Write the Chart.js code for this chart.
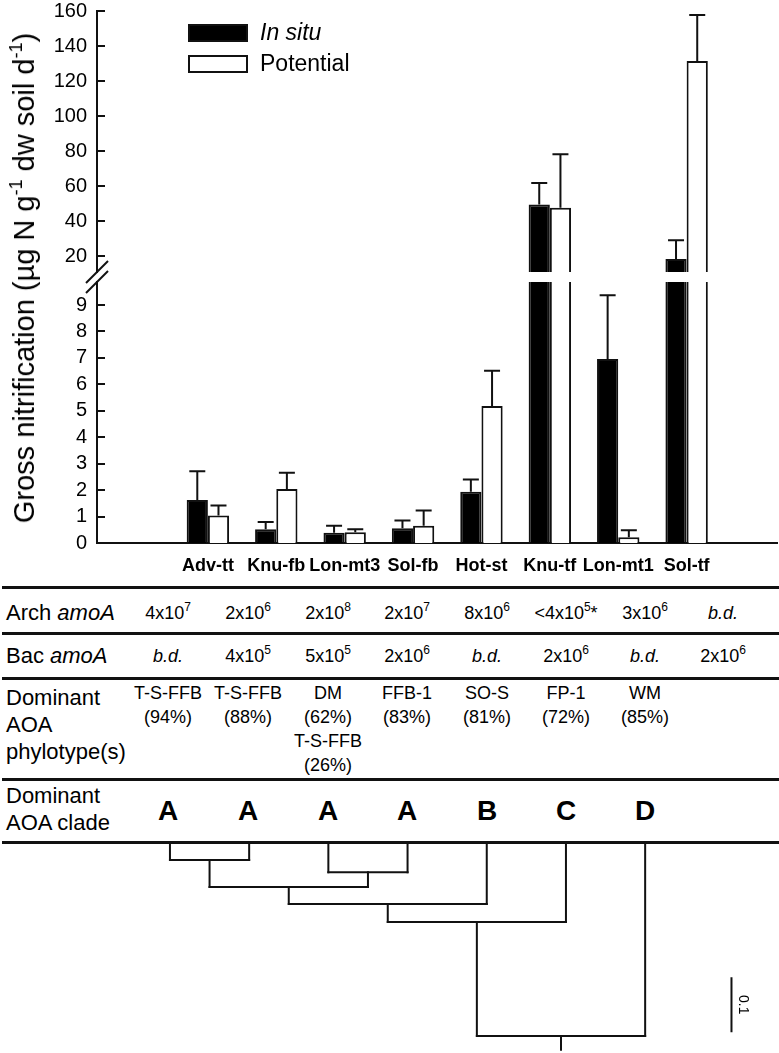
<!DOCTYPE html>
<html>
<head>
<meta charset="utf-8">
<script src="https://cdn.jsdelivr.net/npm/chart.js@4.4.0/dist/chart.umd.min.js"></script>
<style>
  body { margin: 0; background: #fff; font-family: "Liberation Sans", Arial, sans-serif; color: #000; }
  #wrap { position: relative; width: 779px; height: 1053px; overflow: hidden; }
  canvas { position: absolute; left: 0; }
  .ytitle { position: absolute; left: 24px; top: 278px; transform: translate(-50%, -50%) rotate(-90deg);
            white-space: nowrap; font-size: 29px; line-height: 32px; }
  .rule { position: absolute; left: 2px; width: 777px; height: 3px; background: #111; }
  .lab { position: absolute; left: 6px; font-size: 22px; line-height: 27px; white-space: nowrap; }
  .cell { position: absolute; transform: translateX(-50%); text-align: center; font-size: 18px;
          line-height: 24px; white-space: nowrap; }
  .clade { font-size: 28px; font-weight: bold; line-height: 32px; }
  sup { font-size: 12px; line-height: 0; vertical-align: 8px; }
  .ytitle sup { font-size: 18px; vertical-align: 12px; }
</style>
</head>
<body>
<div id="wrap">
  <canvas id="upper" width="779" height="590"></canvas>
  <canvas id="lower" width="779" height="590"></canvas>
  <div class="ytitle">Gross nitrification (µg N g<sup>-1</sup> dw soil d<sup>-1</sup>)</div>
  <div id="table"></div>
  <canvas id="tree" width="779" height="211" style="top:842px"></canvas>
</div>
<script>
// ---- Data ----
const sites = ['Adv-tt', 'Knu-fb', 'Lon-mt3', 'Sol-fb', 'Hot-st', 'Knu-tf', 'Lon-mt1', 'Sol-tf'];
const inSitu = [1.63, 0.52, 0.39, 0.56, 1.94, 49.5, 6.96, 18.3];
const inSituSd = [1.08, 0.27, 0.26, 0.29, 0.46, 12.2, 2.41, 10.7];
const potential = [1.04, 2.04, 0.41, 0.65, 5.18, 47.6, 0.22, 131.4];
const potentialSd = [0.38, 0.62, 0.11, 0.58, 1.33, 30.5, 0.26, 26.3];
const upperTicks = [20, 40, 60, 80, 100, 120, 140, 160];
const lowerTicks = [0, 1, 2, 3, 4, 5, 6, 7, 8, 9];

const archAmoA = ['4x10^7', '2x10^6', '2x10^8', '2x10^7', '8x10^6', '<4x10^5*', '3x10^6', 'b.d.'];
const bacAmoA = ['b.d.', '4x10^5', '5x10^5', '2x10^6', 'b.d.', '2x10^6', 'b.d.', '2x10^6'];
const phylotypes = [['T-S-FFB', '(94%)'], ['T-S-FFB', '(88%)'], ['DM', '(62%)', 'T-S-FFB', '(26%)'],
  ['FFB-1', '(83%)'], ['SO-S', '(81%)'], ['FP-1', '(72%)'], ['WM', '(85%)'], []];
const clades = ['A', 'A', 'A', 'A', 'B', 'C', 'D', ''];

// dendrogram: leaves 0-6, merged nodes numbered 7.. in order; [childA, childB, height]
const merges = [[0, 1, 0.034], [2, 3, 0.057], [7, 8, 0.085], [9, 4, 0.117], [10, 5, 0.151], [11, 6, 0.366]];
const rootStem = 0.392;
const scaleBar = 0.1;

Chart.defaults.font.family = '"Liberation Sans", Arial, sans-serif';
Chart.defaults.color = '#000';

// ---- Plugins ----
const errorBars = {
  id: 'errorBars',
  afterDatasetsDraw(chart) {
    const { ctx, chartArea: a, scales: { y } } = chart;
    ctx.save();
    ctx.beginPath();
    ctx.rect(a.left, a.top, a.right - a.left, a.bottom - a.top);
    ctx.clip();
    ctx.strokeStyle = '#111';
    ctx.lineWidth = 2;
    chart.data.datasets.forEach((ds, di) => {
      chart.getDatasetMeta(di).data.forEach((bar, i) => {
        const v = ds.data[i].y;
        const y0 = y.getPixelForValue(v);
        const y1 = y.getPixelForValue(v + ds.err[i]);
        ctx.beginPath();
        ctx.moveTo(bar.x, y0);
        ctx.lineTo(bar.x, y1);
        ctx.moveTo(bar.x - 8, y1);
        ctx.lineTo(bar.x + 8, y1);
        ctx.stroke();
      });
    });
    ctx.restore();
  }
};

const innerTicks = {
  id: 'innerTicks',
  afterDraw(chart) {
    const { ctx, chartArea: a, scales: { y } } = chart;
    ctx.save();
    ctx.strokeStyle = '#111';
    ctx.lineWidth = 2;
    y.ticks.forEach(t => {
      const py = Math.round(y.getPixelForValue(t.value));
      ctx.beginPath();
      ctx.moveTo(a.left, py);
      ctx.lineTo(a.left + 8, py);
      ctx.stroke();
    });
    ctx.restore();
  }
};

const boxLegend = {
  id: 'boxLegend',
  afterDraw(chart) {
    const ctx = chart.ctx;
    ctx.save();
    chart.data.datasets.forEach((ds, i) => {
      const cy = 33 + i * 31;
      ctx.fillStyle = ds.backgroundColor;
      ctx.fillRect(189, cy - 8, 58, 16);
      ctx.strokeStyle = '#111';
      ctx.lineWidth = 2;
      ctx.strokeRect(189, cy - 8, 58, 16);
      ctx.fillStyle = '#000';
      ctx.font = (ds.italic ? 'italic ' : '') + '23px "Liberation Sans", Arial, sans-serif';
      ctx.textBaseline = 'middle';
      ctx.fillText(ds.label, 260, cy + 1);
    });
    ctx.restore();
  }
};

const axisBreak = {
  id: 'axisBreak',
  afterDraw(chart) {
    const { ctx, chartArea: a } = chart;
    ctx.save();
    ctx.strokeStyle = '#111';
    ctx.lineWidth = 2;
    [a.top - 10, a.top].forEach(yb => {
      ctx.beginPath();
      ctx.moveTo(a.left - 11, yb + 11);
      ctx.lineTo(a.left + 11, yb - 11);
      ctx.stroke();
    });
    ctx.restore();
  }
};

// ---- Bar charts (broken axis = two stacked charts) ----
function barChart(id, yMin, yMax, ticks, padding, showX, extra) {
  return new Chart(document.getElementById(id), {
    type: 'bar',
    data: {
      datasets: [
        { label: 'In situ', italic: true, data: sites.map((s, i) => ({ x: i + 1, y: inSitu[i] })), err: inSituSd,
          backgroundColor: '#000', borderColor: '#111', borderWidth: 2, clip: 0 },
        { label: 'Potential', data: sites.map((s, i) => ({ x: i + 1, y: potential[i] })), err: potentialSd,
          backgroundColor: '#fff', borderColor: '#111', borderWidth: 2, clip: 0 }
      ]
    },
    options: {
      responsive: false,
      animation: false,
      layout: { padding },
      categoryPercentage: 0.62,
      barPercentage: 1.0,
      plugins: { legend: { display: false }, tooltip: { enabled: false } },
      scales: {
        x: {
          type: 'linear', min: 0, max: 8.7, display: showX,
          afterBuildTicks: s => { s.ticks = sites.map((n, i) => ({ value: i + 1 })); },
          afterFit: s => { if (showX) s.height = 47; s.paddingLeft = 0; s.paddingRight = 0; },
          ticks: { callback: v => sites[v - 1] || '', font: { size: 18, weight: 'bold' }, padding: 12,
                   maxRotation: 0, autoSkip: false },
          grid: { display: false, drawTicks: false },
          border: { display: true, color: '#111', width: 2 }
        },
        y: {
          min: yMin, max: yMax,
          afterBuildTicks: s => { s.ticks = ticks.map(v => ({ value: v })); },
          afterFit: s => { s.width = 97; s.paddingTop = 0; s.paddingBottom = 0; },
          ticks: { font: { size: 20 }, padding: 10 },
          grid: { display: false, drawTicks: false },
          border: { display: true, color: '#111', width: 2 }
        }
      }
    },
    plugins: [errorBars, innerTicks].concat(extra)
  });
}

barChart('upper', 10.9, 160, upperTicks, { top: 11, bottom: 318, left: 0, right: 2 }, false, [boxLegend]);
barChart('lower', 0, 9.87, lowerTicks, { top: 282, bottom: 0, left: 0, right: 2 }, true, [axisBreak]);

// ---- Table under the chart ----
const colX = [168, 248, 328, 407, 487, 566, 645, 723];
const fmt = s => s === 'b.d.' ? '<i>b.d.</i>' : s.replace('<', '&lt;').replace(/\^(\d)/, '<sup>$1</sup>');
const table = document.getElementById('table');
function add(cls, top, left, html) {
  const d = document.createElement('div');
  d.className = cls;
  d.style.top = top + 'px';
  if (left !== null) d.style.left = left + 'px';
  d.innerHTML = html;
  table.appendChild(d);
}
[586, 632, 677, 778, 841].forEach(t => add('rule', t, null, ''));
add('lab', 599, null, 'Arch <i>amoA</i>');
add('lab', 642, null, 'Bac <i>amoA</i>');
add('lab', 684, null, 'Dominant<br>AOA<br>phylotype(s)');
add('lab', 782, null, 'Dominant<br>AOA clade');
colX.forEach((x, i) => {
  add('cell', 601, x, fmt(archAmoA[i]));
  add('cell', 644, x, fmt(bacAmoA[i]));
  add('cell', 681, x, phylotypes[i].join('<br>'));
  add('cell clade', 795, x, clades[i]);
});

// ---- Dendrogram ----
const nodes = clades.slice(0, 7).map((c, i) => ({ x: i + 1, h: 0 }));
const segments = [];
merges.forEach(([a, b, h]) => {
  const na = nodes[a], nb = nodes[b];
  segments.push([{ x: na.x, y: na.h }, { x: na.x, y: h }]);
  segments.push([{ x: nb.x, y: nb.h }, { x: nb.x, y: h }]);
  segments.push([{ x: na.x, y: h }, { x: nb.x, y: h }]);
  nodes.push({ x: (na.x + nb.x) / 2, h });
});
const root = nodes[nodes.length - 1];
segments.push([{ x: root.x, y: root.h }, { x: root.x, y: rootStem }]);
const barX = 8.09, barTop = 0.257;
segments.push([{ x: barX, y: barTop }, { x: barX, y: barTop + scaleBar }]);

const scaleLabel = {
  id: 'scaleLabel',
  afterDraw(chart) {
    const { ctx, scales: { x, y } } = chart;
    ctx.save();
    ctx.translate(x.getPixelForValue(barX) + 11, y.getPixelForValue(barTop + scaleBar / 2));
    ctx.rotate(Math.PI / 2);
    ctx.font = '14px "Liberation Sans", Arial, sans-serif';
    ctx.fillStyle = '#000';
    ctx.textAlign = 'center';
    ctx.textBaseline = 'middle';
    ctx.fillText(String(scaleBar), 0, 0);
    ctx.restore();
  }
};

new Chart(document.getElementById('tree'), {
  type: 'scatter',
  data: {
    datasets: segments.map(seg => ({
      data: seg, showLine: true, pointRadius: 0, borderColor: '#111', borderWidth: 2,
      borderCapStyle: 'square'
    }))
  },
  options: {
    responsive: false,
    animation: false,
    layout: { padding: 0 },
    plugins: { legend: { display: false }, tooltip: { enabled: false } },
    scales: {
      x: { type: 'linear', min: -1.146, max: 8.69, display: false },
      y: { type: 'linear', min: 0, max: 0.398, reverse: true, display: false }
    }
  },
  plugins: [scaleLabel]
});
</script>
</body>
</html>
